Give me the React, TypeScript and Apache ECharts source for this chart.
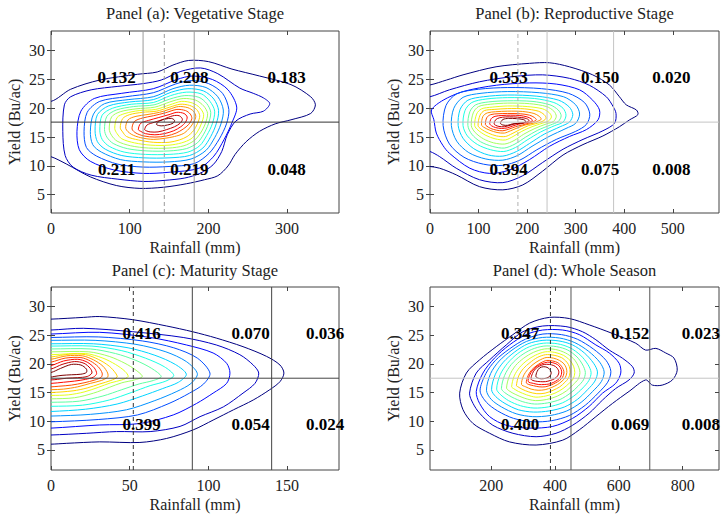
import React, { useEffect, useRef } from 'react';
import * as echarts from 'echarts';

type Pt = [number, number];
type Ring = Pt[];

const TITLES = ['Panel (a): Vegetative Stage', 'Panel (b): Reproductive Stage', 'Panel (c): Maturity Stage', 'Panel (d): Whole Season'];
const X_NAME = 'Rainfall (mm)';
const Y_NAME = 'Yield (Bu/ac)';

const X_TICKS_A = [0, 100, 200, 300];
const X_TICKS_B = [0, 100, 200, 300, 400, 500];
const X_TICKS_C = [0, 50, 100, 150];
const X_TICKS_D = [200, 400, 600, 800];
const Y_TICKS = [5, 10, 15, 20, 25, 30];

const X_RANGE_A: Pt = [0, 366];
const X_RANGE_B: Pt = [0, 595];
const X_RANGE_C: Pt = [0, 183];
const X_RANGE_D: Pt = [8, 914];
const Y_RANGE_TOP: Pt = [1.83, 33.41];
const Y_RANGE_BOTTOM: Pt = [1.5, 33.4];

const V_LINES_A = [117, 144, 182];
const V_LINES_B = [181, 241, 378];
const V_LINES_C = [52.3, 89.8, 140.2];
const V_LINES_D = [385.6, 450, 697];
const H_LINE_A = 17.6;
const H_LINE_B = 17.6;
const H_LINE_C = 17.5;
const H_LINE_D = 17.5;

const LABELS_A: [number, number, string][] = [
  [83.5, 25.27, '0.132'], [175.7, 25.27, '0.208'], [299.5, 25.27, '0.183'],
  [83.5, 9.45, '0.211'], [175.7, 9.45, '0.219'], [299.5, 9.45, '0.048'],
];
const LABELS_B: [number, number, string][] = [
  [162, 25.27, '0.353'], [350, 25.27, '0.150'], [497, 25.27, '0.020'],
  [162, 9.45, '0.394'], [350, 9.45, '0.075'], [497, 9.45, '0.008'],
];
const LABELS_C: [number, number, string][] = [
  [57.6, 25.36, '0.416'], [126.9, 25.36, '0.070'], [174.2, 25.36, '0.036'],
  [57.6, 9.36, '0.399'], [126.9, 9.36, '0.054'], [174.2, 9.36, '0.024'],
];
const LABELS_D: [number, number, string][] = [
  [290.8, 25.24, '0.347'], [635, 25.24, '0.152'], [857, 25.24, '0.023'],
  [290.8, 9.36, '0.400'], [635, 9.36, '0.069'], [857, 9.36, '0.008'],
];

// Contour rings (outermost first), in data units
const RINGS_A: Ring[] = [
  [[-30,21.5],[0,21.2],[25,23.3],[62,24.9],[110,25.9],[135,26.3],[155,27.5],[175,28.3],[200,28.1],[230,26.8],[265,25.6],[305,24.1],[330,22],[336,20.6],[330,19.1],[305,18],[285,17.3],[265,16],[248,14.2],[234,12],[225,10],[212,8.3],[195,7.6],[172,6.9],[143,6.3],[113,6.1],[83,6.6],[50,8.1],[20,10.3],[0,11.6],[-30,12.5]],
  [[15,16],[17,20.6],[25,22],[51,23.2],[85,23.8],[118,24.3],[140,24.9],[165,26.4],[190,27],[212,26],[240,23.5],[257,22.6],[270,21.8],[278,20.8],[270,19.5],[253,19],[235,17.8],[224,15.4],[217,12.5],[206,10.2],[189,8.7],[170,7.9],[145,7.5],[118,7.3],[85,7.7],[51,8.4],[28,9.8],[18,11.8]],
  [[33,16],[38,19.5],[55,21.7],[90,22.6],[130,23.4],[160,25],[180,25.6],[205,25],[225,23.2],[236,20.2],[230,17.5],[220,14.6],[207,11.7],[188,9.6],[150,8.9],[117,8.7],[80,9.3],[50,10.8],[36,12.8]],
  [[42,16],[46,19.3],[62,21.2],[95,22],[130,22.7],[158,24.2],[178,24.8],[200,24.3],[218,22.6],[226,19.8],[223,17.3],[214,14.7],[201,12.2],[182,10.4],[150,9.9],[117,9.8],[85,10.3],[58,11.7],[45,13.2]],
  [[50,16],[54,19],[68,20.8],[98,21.5],[130,22],[155,23.4],[176,24],[197,23.6],[212,22],[219,19.7],[216,17.3],[208,14.9],[197,12.7],[178,11.2],[150,10.7],[117,10.7],[88,11.1],[64,12.4],[53,13.7]],
  [[56,16.1],[59,18.9],[73,20.4],[100,21.1],[130,21.5],[153,22.8],[174,23.4],[194,23],[207,21.6],[213,19.6],[210,17.3],[203,15.1],[193,13.1],[176,11.8],[150,11.4],[118,11.4],[90,11.8],[69,12.9],[59,14.2]],
  [[62,16.2],[65,18.8],[78,20],[102,20.7],[130,21],[152,22.2],[172,22.8],[191,22.5],[202,21.2],[208,19.5],[205,17.3],[198,15.3],[189,13.5],[174,12.4],[150,12],[120,12],[93,12.4],[74,13.4],[65,14.6]],
  [[68,16.3],[71,18.6],[83,19.7],[105,20.3],[131,20.6],[151,21.6],[170,22.2],[188,21.9],[198,20.8],[203,19.3],[200,17.3],[194,15.5],[186,14],[172,13],[150,12.6],[122,12.6],[97,13],[79,13.9],[71,15]],
  [[74,16.4],[77,18.5],[88,19.4],[108,19.9],[132,20.2],[151,21.1],[168,21.7],[184,21.4],[194,20.4],[199,19.1],[196,17.3],[190,15.7],[182,14.4],[169,13.5],[150,13.1],[124,13.1],[101,13.5],[84,14.3],[77,15.3]],
  [[81,16.5],[84,18.4],[94,19.1],[112,19.6],[133,19.8],[151,20.6],[166,21.2],[180,20.9],[189,20.1],[194,18.9],[191,17.3],[186,15.9],[178,14.7],[166,14],[150,13.6],[127,13.6],[106,14],[90,14.7],[84,15.6]],
  [[88,16.6],[91,18.2],[100,18.9],[116,19.3],[134,19.5],[151,20.2],[164,20.7],[176,20.5],[185,19.8],[189,18.7],[186,17.3],[181,16.1],[173,15.1],[163,14.5],[150,14.1],[130,14.1],[111,14.5],[96,15.1],[91,15.9]],
  [[95,16.5],[98,18],[108,18.6],[122,18.9],[138,19.3],[150,19.8],[162,20.3],[174,20.1],[181,19.5],[184,18.6],[181,17.5],[175,16.4],[168,15.6],[157,15.1],[145,14.8],[130,14.6],[114,14.9],[102,15.5]],
  [[103,16.4],[106,17.7],[116,18.3],[130,18.7],[145,19.2],[160,19.8],[171,19.6],[177,19],[179,18.2],[175,17.2],[168,16.4],[159,15.7],[147,15.2],[132,15],[118,15.2],[108,15.7]],
  [[111,16.3],[114,17.4],[124,17.9],[137,18.4],[150,18.9],[160,19.3],[169,19.1],[173,18.5],[171,17.6],[165,16.8],[156,16.1],[144,15.6],[132,15.4],[120,15.6],[114,16]],
  [[119,16.3],[122,17.1],[132,17.6],[143,18.1],[155,18.7],[163,18.7],[167,18.1],[164,17.4],[157,16.8],[147,16.3],[136,15.9],[126,15.9],[121,16.1]],
  [[134,17.2],[138,17.8],[146,18.15],[153,18.25],[157,17.9],[155,17.4],[148,17.1],[140,16.95]],
];

const RINGS_B: Ring[] = [
  [[-20,24],[0,24.05],[34,24.9],[68,25.8],[136,27.2],[205,27.8],[246,27.9],[287,27.2],[335,25.8],[370,24],[390,22],[404,20.6],[425,19.7],[428,18.9],[411,18],[390,16.8],[356,15.2],[315,13.7],[274,11.9],[232,9.1],[191,6.7],[150,5.85],[102,6.4],[54,8.45],[20,9.6],[0,9.9],[-20,10]],
  [[-20,22],[0,22],[40,23.2],[102,24.6],[171,25.5],[232,25.8],[287,25.2],[328,24],[363,22],[377,20.3],[383,19.1],[380,17.4],[356,16.1],[315,14.6],[274,12.9],[232,10.6],[191,8.3],[150,7.1],[102,7.6],[54,9.6],[20,11.6],[0,12.5],[-20,12.8]],
  [[3,19.7],[8,18],[13,15.7],[27,13.5],[40,12.2],[82,9.6],[123,8.7],[164,9.3],[205,11.1],[246,13.4],[287,15.1],[322,16.3],[346,18],[349,19.7],[335,21.4],[308,23.2],[260,24.2],[205,24.4],[136.5,24],[68,22.9],[27,21.4]],
  [[27,17],[33,20.5],[55,22.5],[100,23.3],[160,23.6],[230,23.4],[285,22.6],[318,21],[329,19],[322,17.2],[300,16],[260,14.6],[220,12.8],[185,11],[150,10.1],[110,10.3],[70,11.5],[40,13.8]],
  [[44,17],[49,20],[68,21.9],[105,22.6],[160,22.9],[225,22.7],[275,22],[300,20.6],[308,19],[300,17.4],[280,16.5],[245,15.1],[210,13.4],[180,11.8],[150,11],[115,11.2],[80,12.3],[55,14.3]],
  [[58,17],[62,19.8],[78,21.4],[110,22],[160,22.3],[220,22.1],[265,21.4],[287,20.2],[294,18.9],[287,17.6],[268,16.8],[235,15.5],[205,13.9],[178,12.5],[150,11.7],[120,11.9],[90,13],[68,14.8]],
  [[68,17],[72,19.6],[86,21],[115,21.6],[160,21.85],[215,21.7],[255,21],[274,20],[280,18.8],[274,17.6],[257,17],[228,15.9],[200,14.5],[176,13.2],[152,12.5],[125,12.8],[98,13.7],[77,15.2]],
  [[78,17],[82,19.4],[94,20.6],[120,21.1],[160,21.3],[210,21.2],[247,20.6],[264,19.7],[270,18.7],[264,17.7],[248,17.1],[222,16.2],[197,15],[175,13.8],[153,13.1],[128,13.4],[104,14.2],[86,15.5]],
  [[85,17],[89,19.2],[100,20.3],[124,20.7],[160,20.9],[205,20.8],[240,20.3],[255,19.5],[260,18.6],[254,17.7],[240,17.3],[216,16.5],[193,15.5],[173,14.4],[154,13.8],[131,14],[110,14.7],[93,15.8]],
  [[92,17],[96,19],[106,19.9],[128,20.2],[160,20.4],[200,20.3],[232,19.9],[246,19.2],[250,18.5],[244,17.8],[231,17.4],[210,16.8],[189,16],[171,15.1],[155,14.5],[134,14.7],[115,15.3],[99,16.2]],
  [[99,17],[103,18.8],[112,19.6],[132,19.8],[160,19.95],[195,19.9],[223,19.5],[235,18.9],[239,18.3],[233,17.8],[221,17.4],[203,17],[185,16.3],[169,15.6],[155,15.1],[137,15.2],[120,15.7],[105,16.4]],
  [[106,17.1],[109,18.6],[118,19.2],[135,19.4],[160,19.5],[190,19.45],[214,19.1],[225,18.6],[229,18.1],[223,17.8],[212,17.4],[196,17.1],[180,16.6],[166,16.1],[153,15.7],[138,15.8],[123,16.2],[111,16.7]],
  [[114,17.2],[117,18.4],[125,18.9],[140,19.05],[160,19.1],[186,19.05],[205,18.8],[215,18.4],[219,18],[213,17.7],[203,17.4],[190,17.1],[176,16.8],[163,16.4],[150,16.1],[137,16.2],[125,16.5],[117,16.9]],
  [[123,17.3],[126,18.2],[134,18.6],[148,18.75],[166,18.8],[185,18.75],[200,18.5],[208,18.2],[211,17.9],[205,17.6],[195,17.45],[183,17.25],[171,16.95],[159,16.6],[147,16.5],[135,16.65],[127,16.95]],
  [[132,17.3],[135,18],[143,18.35],[156,18.5],[172,18.5],[188,18.4],[199,18.2],[204,17.9],[199,17.6],[189,17.5],[177,17.35],[165,17.05],[153,16.8],[142,16.85],[135,17.05]],
  [[145,17.4],[150,18.05],[162,18.25],[178,18.2],[192,18.05],[197,17.75],[192,17.45],[180,17.35],[170,17.3],[160,17.05],[150,17.1]],
];

const RINGS_C: Ring[] = [
  [[-10,27.8],[0,27.8],[20.5,28.1],[31,28.25],[52,27.7],[73.5,26.6],[90,25.6],[105,24.5],[122,23],[137,21.3],[145.5,19.8],[148,18.4],[145.5,16.9],[139,15.5],[128.5,13.7],[116,12],[103,10.2],[90.4,8.5],[73.5,7],[56.5,6.3],[31,6.4],[10,6.15],[0,6],[-10,6]],
  [[-10,25.9],[0,25.9],[20.5,26.2],[52,25.6],[84,24.6],[105,23.3],[120,21.6],[128.5,19.8],[132,18.4],[129.6,16.6],[122,14.9],[109.5,12.5],[94.7,10.8],[82,9.1],[63,8.2],[41.7,8.2],[22.7,7.9],[0,7.6],[-10,7.6]],
  [[-10,25.2],[0,25.2],[31,25.5],[63,24.6],[86,23.3],[103,21.9],[111.6,20.1],[113.7,18.4],[111.6,16.6],[103,14.9],[92.5,13.1],[77.7,11.1],[56.5,9.6],[31,9.35],[0,8.8],[-10,8.8]],
  [[-10,24.6],[0,24.6],[30,24.7],[58,24],[78,22.8],[93,21],[101,18.4],[97,16.5],[88,14.9],[75,13.1],[55,11.1],[30,10.3],[0,9.9],[-10,9.9]],
  [[-10,24.1],[0,24.1],[28,24.1],[54,23.4],[73,22.1],[86,20.4],[93,18.3],[89,16.6],[80,15.2],[66,13.6],[48,12],[25,11.2],[0,10.9],[-10,10.9]],
  [[-10,23.5],[0,23.5],[27,23.5],[49,22.8],[66,21.5],[79,19.9],[86,18.2],[81,16.8],[71,15.7],[58,14.4],[42,13],[22,12.1],[0,11.7],[-10,11.7]],
  [[-10,23.1],[0,23.1],[26,23.1],[45,22.3],[60,21],[72,19.5],[78,18],[73,17],[63,16.2],[51,15],[37,13.7],[20,12.8],[0,12.6],[-10,12.6]],
  [[-10,22.6],[0,22.6],[25,22.6],[41,21.8],[54,20.6],[64,19.2],[70,17.8],[65,17.1],[56,16.5],[45,15.5],[33,14.4],[18,13.5],[0,13.3],[-10,13.3]],
  [[-10,22.1],[0,22.1],[24,22.1],[37,21.3],[47,20.1],[54,18.9],[58,17.8],[53,17.2],[45,16.7],[37,15.9],[27,14.9],[15,14.1],[0,13.9],[-10,13.9]],
  [[-10,21.6],[0,21.6],[22,21.8],[33,21],[41,19.9],[47,18.7],[49,17.8],[45,17.2],[38,16.7],[30,15.9],[21,15.1],[11,14.6],[0,14.5],[-10,14.5]],
  [[-10,21.1],[0,21.2],[12,21.7],[22,21.6],[30,20.8],[37,19.6],[41,18.4],[42,17.7],[38,17.1],[31,16.5],[23,15.8],[14,15.3],[0,15],[-10,15]],
  [[-10,20.6],[0,20.8],[10,21.4],[20,21.4],[27,20.7],[33,19.6],[36,18.4],[36,17.7],[32,17.1],[25,16.6],[17,16],[8,15.6],[0,15.5],[-10,15.5]],
  [[-10,20],[0,20.3],[9,21],[19,21.1],[25,20.5],[30,19.5],[32.5,18.4],[32,17.7],[28,17.2],[21,16.7],[13,16.3],[5,16.1],[0,16],[-10,16]],
  [[-10,19.4],[0,19.7],[8,20.5],[17,20.8],[23,20.3],[27.5,19.3],[29,18.3],[27,17.7],[22,17.3],[15,17],[8,16.8],[0,16.6],[-10,16.6]],
  [[-10,18.8],[0,19.1],[7,19.9],[15,20.4],[21,20.1],[25,19.2],[26,18.4],[23,17.8],[17,17.6],[10,17.5],[4,17.3],[0,17.2],[-10,17.2]],
  [[-10,18.3],[0,18.5],[6,19.2],[13,19.9],[19,19.8],[22.5,19.1],[22.5,18.5],[19,18.2],[13,18.1],[7,18],[2,17.8],[0,17.7],[-10,17.7]],
];

const RINGS_D: Ring[] = [
  [[101,14.9],[122,18.4],[163.5,20.7],[215.6,23],[268,25.1],[320,27.1],[382,28.1],[445,27.9],[507,26.8],[580,25.3],[653,23.6],[684,22.4],[716,22.7],[747,21.9],[773,21],[783,18.9],[768,17.2],[736,16.3],[705,16.3],[684,17.2],[632,15.2],[580,13.1],[528,10.8],[476,8.5],[424,6.7],[340.6,5.85],[257,6.4],[195,7.9],[143,9.6],[111.5,12]],
  [[132,14.9],[153,18.4],[195,20.7],[247,23.3],[299,25.6],[361.5,26.6],[434,26.5],[486,25.6],[528,24.2],[570,22.4],[611,21],[643,19.5],[648,18.4],[632,17.2],[590,15.7],[549,13.7],[507,11.4],[455,9.3],[403,7.9],[340.6,7.3],[268,7.9],[205,9.3],[163.5,11.4],[143,13.1]],
  [[153,15.2],[174,18.4],[210,21],[257,23.3],[309,25.1],[361.5,25.9],[424,25.9],[476,25.1],[528,23.3],[570,21.9],[601,20.1],[606,18.4],[590,16.6],[549,14.9],[507,12.6],[455,10.5],[393,9.1],[320,8.8],[247,9.3],[195,10.8],[163.5,13.1]],
  [[165,15.3],[183,18.3],[213,20.6],[257,22.6],[307,24.3],[362,25.2],[420,25.1],[470,24.3],[520,22.6],[560,20.6],[575,18.7],[565,16.8],[535,14.9],[495,12.8],[445,11],[390,10.1],[330,9.9],[270,10.5],[220,11.8],[185,13.3]],
  [[185,15.4],[198,18.3],[225,20.5],[265,22.4],[310,23.9],[360,24.6],[415,24.5],[462,23.7],[505,22.2],[540,20.3],[554,18.6],[545,16.9],[518,15.2],[482,13.3],[437,11.8],[385,11],[330,10.8],[278,11.3],[232,12.5],[200,13.8]],
  [[201,15.5],[213,18.2],[238,20.3],[274,22.1],[315,23.5],[362,24.1],[412,24],[455,23.3],[492,21.9],[521,20.1],[533,18.6],[525,17],[502,15.5],[470,13.8],[430,12.5],[382,11.8],[332,11.6],[285,12],[243,13.1],[214,14.3]],
  [[217,15.6],[228,18.1],[251,20.1],[283,21.8],[320,23],[363,23.6],[408,23.5],[447,22.8],[480,21.5],[503,19.9],[513,18.5],[506,17.1],[487,15.8],[459,14.4],[423,13.2],[379,12.5],[334,12.3],[292,12.7],[254,13.6],[228,14.7]],
  [[232,15.7],[242,18],[263,19.9],[292,21.4],[326,22.5],[365,23.1],[405,23],[440,22.4],[469,21.2],[487,19.8],[495,18.5],[489,17.2],[472,16.1],[448,14.9],[416,13.8],[377,13.2],[336,13],[299,13.4],[265,14.2],[242,15]],
  [[248,15.8],[257,17.9],[276,19.7],[302,21],[332,22],[367,22.6],[402,22.5],[433,21.9],[458,20.9],[472,19.7],[478,18.5],[472,17.3],[457,16.4],[436,15.3],[408,14.4],[374,13.8],[338,13.6],[305,14],[275,14.7],[256,15.3]],
  [[264,16],[272,17.9],[289,19.4],[312,20.6],[338,21.5],[369,22.1],[399,22],[426,21.5],[447,20.6],[458,19.6],[462,18.5],[457,17.4],[444,16.6],[425,15.7],[400,14.9],[371,14.4],[340,14.2],[311,14.6],[285,15.2],[270,15.7]],
  [[279,16.2],[286,17.9],[301,19.2],[321,20.2],[344,21.1],[370,21.6],[397,21.5],[420,21.1],[437,20.3],[445,19.5],[447,18.5],[442,17.5],[431,16.8],[415,16],[394,15.4],[369,14.9],[343,14.8],[318,15.1],[296,15.6],[284,16]],
  [[295,16.4],[301,17.9],[314,19],[331,19.9],[350,20.6],[372,21.1],[395,21],[414,20.6],[428,20],[435,19.3],[437,18.5],[432,17.6],[422,17],[408,16.4],[390,15.9],[369,15.5],[347,15.4],[325,15.6],[308,16]],
  [[310,16.7],[315,17.9],[326,18.9],[340,19.6],[356,20.2],[374,20.6],[393,20.5],[409,20.2],[420,19.6],[426,19],[428,18.4],[423,17.6],[414,17.1],[402,16.7],[387,16.3],[369,16],[350,16],[332,16.2],[318,16.4]],
  [[316,16.9],[320,18],[330,18.9],[343,19.6],[358,20],[376,20.3],[393,20.2],[407,19.9],[416,19.4],[421,18.6],[417,17.7],[408,17.2],[396,16.8],[382,16.5],[366,16.4],[349,16.4],[332,16.6]],
  [[325,17.3],[329,18.3],[338,19.1],[351,19.6],[366,19.9],[382,19.9],[396,19.7],[406,19.3],[412,18.6],[408,17.9],[398,17.4],[385,17.1],[370,16.9],[354,16.9],[338,17]],
  [[340,17.8],[344,18.7],[352,19.3],[363,19.5],[375,19.4],[384,19],[388,18.4],[383,17.8],[372,17.5],[358,17.4],[347,17.5]],
];

const FONT = '"Liberation Serif", "Times New Roman", Times, serif';

function jet(t: number): string {
  const c = (v: number) => Math.max(0, Math.min(1, v));
  const r = c(1.5 - Math.abs(4 * t - 3));
  const g = c(1.5 - Math.abs(4 * t - 2));
  const b = c(1.5 - Math.abs(4 * t - 1));
  return `rgb(${Math.round(r * 255)},${Math.round(g * 255)},${Math.round(b * 255)})`;
}

interface PanelLayout {
  grid: { left: number; top: number; width: number; height: number };
  titleY: number;
  vColors: string[];
  vTypes: ('solid' | 'dashed')[];
  hColor: string;
}

const LAYOUTS: PanelLayout[] = [
  { grid: { left: 51, top: 31, width: 288, height: 182 }, titleY: 13, vColors: ['#9a9a9a', '#9a9a9a', '#9a9a9a'], vTypes: ['solid', 'dashed', 'solid'], hColor: '#333' },
  { grid: { left: 430, top: 31, width: 289, height: 182 }, titleY: 13, vColors: ['#b0b0b0', '#c4c4c4', '#c4c4c4'], vTypes: ['dashed', 'solid', 'solid'], hColor: '#c4c4c4' },
  { grid: { left: 51, top: 287, width: 288, height: 183 }, titleY: 270, vColors: ['#333', '#444', '#444'], vTypes: ['dashed', 'solid', 'solid'], hColor: '#444' },
  { grid: { left: 430, top: 287, width: 289, height: 183 }, titleY: 270, vColors: ['#333', '#555', '#555'], vTypes: ['dashed', 'solid', 'solid'], hColor: '#c4c4c4' },
];

const PANEL_DATA = [
  { rings: RINGS_A, xTicks: X_TICKS_A, xRange: X_RANGE_A, yRange: Y_RANGE_TOP, vLines: V_LINES_A, hLine: H_LINE_A, labels: LABELS_A },
  { rings: RINGS_B, xTicks: X_TICKS_B, xRange: X_RANGE_B, yRange: Y_RANGE_TOP, vLines: V_LINES_B, hLine: H_LINE_B, labels: LABELS_B },
  { rings: RINGS_C, xTicks: X_TICKS_C, xRange: X_RANGE_C, yRange: Y_RANGE_BOTTOM, vLines: V_LINES_C, hLine: H_LINE_C, labels: LABELS_C },
  { rings: RINGS_D, xTicks: X_TICKS_D, xRange: X_RANGE_D, yRange: Y_RANGE_BOTTOM, vLines: V_LINES_D, hLine: H_LINE_D, labels: LABELS_D },
];

function buildOption(): any {
  const grids: any[] = [];
  const xAxes: any[] = [];
  const yAxes: any[] = [];
  const series: any[] = [];
  const graphics: any[] = [];

  PANEL_DATA.forEach((p, i) => {
    const L = LAYOUTS[i];
    grids.push({ ...L.grid, show: true, borderColor: '#444', borderWidth: 1, backgroundColor: 'transparent' });
    const tickStyle = { inside: true, length: 4, lineStyle: { color: '#444', width: 1 } };
    xAxes.push({
      gridIndex: i, type: 'value', min: p.xRange[0], max: p.xRange[1], position: 'bottom',
      axisLine: { show: false }, splitLine: { show: false },
      axisTick: { ...tickStyle, customValues: p.xTicks },
      axisLabel: { customValues: p.xTicks, fontFamily: FONT, fontSize: 16, color: '#222', margin: 7 },
      name: X_NAME, nameLocation: 'middle', nameGap: 26,
      nameTextStyle: { fontFamily: FONT, fontSize: 16, color: '#222' },
    });
    xAxes.push({
      gridIndex: i, type: 'value', min: p.xRange[0], max: p.xRange[1], position: 'top',
      axisLine: { show: false }, splitLine: { show: false },
      axisTick: { ...tickStyle, customValues: p.xTicks }, axisLabel: { show: false },
    });
    yAxes.push({
      gridIndex: i, type: 'value', min: p.yRange[0], max: p.yRange[1], position: 'left',
      axisLine: { show: false }, splitLine: { show: false },
      axisTick: { ...tickStyle, customValues: Y_TICKS },
      axisLabel: { customValues: Y_TICKS, fontFamily: FONT, fontSize: 16, color: '#222', margin: 6 },
      name: Y_NAME, nameLocation: 'middle', nameGap: 29,
      nameTextStyle: { fontFamily: FONT, fontSize: 16, color: '#222' },
    });
    yAxes.push({
      gridIndex: i, type: 'value', min: p.yRange[0], max: p.yRange[1], position: 'right',
      axisLine: { show: false }, splitLine: { show: false },
      axisTick: { ...tickStyle, customValues: Y_TICKS }, axisLabel: { show: false },
    });

    const xi = i * 2;
    const yi = i * 2;
    const n = p.rings.length;
    const colors = p.rings.map((_, k) => jet(k / (n - 1)));

    series.push({
      type: 'custom', xAxisIndex: xi, yAxisIndex: yi, silent: true, z: 2,
      data: p.rings.map((r) => r[0]),
      renderItem: (params: any, api: any) => {
        const ring = p.rings[params.dataIndex];
        const pts = ring.map((pt) => api.coord(pt));
        const cs = params.coordSys;
        return {
          type: 'polygon',
          shape: { points: pts, smooth: 0.3 },
          style: { fill: 'none', stroke: colors[params.dataIndex], lineWidth: 1 },
          clipPath: { type: 'rect', shape: { x: cs.x, y: cs.y, width: cs.width, height: cs.height } },
        };
      },
    });

    p.vLines.forEach((x, k) => {
      series.push({
        type: 'line', xAxisIndex: xi, yAxisIndex: yi, silent: true, z: 3, symbol: 'none',
        data: [[x, p.yRange[0]], [x, p.yRange[1]]],
        lineStyle: { color: L.vColors[k], width: 1, type: L.vTypes[k] === 'dashed' ? [4, 3] : 'solid' },
      });
    });
    series.push({
      type: 'line', xAxisIndex: xi, yAxisIndex: yi, silent: true, z: 3, symbol: 'none',
      data: [[p.xRange[0], p.hLine], [p.xRange[1], p.hLine]],
      lineStyle: { color: L.hColor, width: 1 },
    });

    series.push({
      type: 'custom', xAxisIndex: xi, yAxisIndex: yi, silent: true, z: 5,
      data: p.labels.map((l) => [l[0], l[1]]),
      renderItem: (params: any, api: any) => {
        const lab = p.labels[params.dataIndex];
        const pt = api.coord([lab[0], lab[1]]);
        return {
          type: 'text', x: pt[0], y: pt[1],
          style: { text: lab[2], fontFamily: FONT, fontSize: 17, fontWeight: 'bold', fill: '#000', align: 'center', verticalAlign: 'middle' },
        };
      },
    });

    graphics.push({
      type: 'text', x: L.grid.left + L.grid.width / 2, y: L.titleY,
      style: { text: TITLES[i], fontFamily: FONT, fontSize: 16.5, fill: '#222', align: 'center', verticalAlign: 'middle' },
    });
  });

  return { animation: false, backgroundColor: '#fff', grid: grids, xAxis: xAxes, yAxis: yAxes, series, graphic: graphics };
}

export default function App() {
  const ref = useRef<HTMLDivElement>(null);
  useEffect(() => {
    document.body.style.margin = '0';
    const chart = echarts.init(ref.current as HTMLDivElement, null, { renderer: 'svg' });
    chart.setOption(buildOption());
    return () => chart.dispose();
  }, []);
  return <div ref={ref} style={{ width: 726, height: 520 }} />;
}
